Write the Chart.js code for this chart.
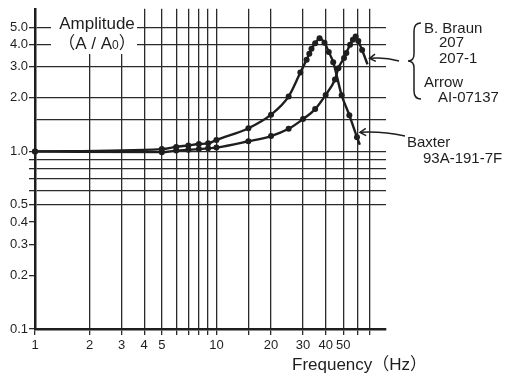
<!DOCTYPE html>
<html>
<head>
<meta charset="utf-8">
<script src="https://cdn.jsdelivr.net/npm/chart.js@4.4.0/dist/chart.umd.min.js"></script>
<style>
  body { margin: 0; background: #fff; }
</style>
</head>
<body>
<canvas id="freqChart" width="523" height="378"></canvas>
<script>
// tick positions and labels (log axes)
const xTickValues = [1, 2, 3, 4, 5, 6, 7, 8, 9, 10, 15, 20, 30, 40, 50, 60, 70];
const xTickLabels = ['1', '2', '3', '4', '5', '', '', '', '', '10', '', '20', '30', '40', '50', '', ''];
const yTickValues = [0.1, 0.2, 0.3, 0.4, 0.5, 0.6, 0.7, 0.8, 0.9, 1, 1.5, 2, 3, 4, 5];
const yTickLabels = ['0.1', '0.2', '0.3', '0.4', '0.5', '', '', '', '', '1.0', '', '2.0', '3.0', '4.0', '5.0'];

// Baxter 93A-191-7F (peak near 37 Hz)
const baxterFreq = [1, 5, 6, 7, 8, 9, 10, 15, 20, 25, 29, 31.4, 32.5, 33.4, 35, 37, 39.4, 41.6, 44, 49, 54, 59.5, 61.7];
const baxterAmp = [1.0, 1.03, 1.06, 1.08, 1.1, 1.11, 1.16, 1.35, 1.61, 2.04, 2.78, 3.28, 3.54, 3.78, 4.06, 4.33, 4.09, 3.63, 3.18, 2.07, 1.6, 1.2, 1.09];

// B. Braun 207 / 207-1, Arrow AI-07137 (peak near 58 Hz)
const braunFreq = [1, 5, 6, 7, 8, 9, 10, 15, 20, 25, 30, 35, 40, 45, 47, 50.5, 52, 54.5, 56.5, 58.5, 60.5, 63.5, 68];
const braunAmp = [1.0, 0.99, 1.01, 1.02, 1.03, 1.04, 1.05, 1.14, 1.22, 1.34, 1.52, 1.73, 2.08, 2.54, 2.94, 3.36, 3.58, 3.99, 4.25, 4.43, 4.18, 3.72, 3.09];

const ink = '#1e1e1e';
const gridInk = '#2a2a2a';
const fontFam = '"Liberation Sans", "Noto Sans CJK JP", sans-serif';

function toPoints(xs, ys) {
    return xs.map((x, i) => ({x: x, y: ys[i]}));
}
// last entry is only where the drawn line stops, no marker there
function markerSizes(xs) {
    return xs.map((x, i) => i === xs.length - 1 ? 0 : 3);
}

function drawArrow(ctx, fromX, fromY, tipX, tipY, bend) {
    let mx = (fromX + tipX) / 2;
    let my = (fromY + tipY) / 2 + bend;
    ctx.beginPath();
    ctx.moveTo(fromX, fromY);
    ctx.quadraticCurveTo(mx, my, tipX, tipY);
    ctx.stroke();
    let ang = Math.atan2(tipY - my, tipX - mx);
    ctx.beginPath();
    ctx.moveTo(tipX - 7 * Math.cos(ang - 0.55), tipY - 7 * Math.sin(ang - 0.55));
    ctx.lineTo(tipX, tipY);
    ctx.lineTo(tipX - 7 * Math.cos(ang + 0.55), tipY - 7 * Math.sin(ang + 0.55));
    ctx.stroke();
}

function drawBrace(ctx, x, top, bottom) {
    let mid = (top + bottom) / 2;
    ctx.beginPath();
    ctx.moveTo(x + 13, top);
    ctx.quadraticCurveTo(x + 6, top, x + 6, top + 8);
    ctx.lineTo(x + 6, mid - 7);
    ctx.quadraticCurveTo(x + 6, mid, x, mid);
    ctx.quadraticCurveTo(x + 6, mid, x + 6, mid + 7);
    ctx.lineTo(x + 6, bottom - 8);
    ctx.quadraticCurveTo(x + 6, bottom, x + 13, bottom);
    ctx.stroke();
}

const notes = {
    id: 'notes',
    afterDraw(chart) {
        const ctx = chart.ctx;
        const xs = chart.scales.x;
        const ys = chart.scales.y;
        ctx.save();
        ctx.fillStyle = ink;
        ctx.strokeStyle = ink;
        ctx.textBaseline = 'alphabetic';

        // y axis title sits on a blank patch of the grid
        ctx.fillStyle = '#fff';
        ctx.fillRect(51, 8, 86, 46);
        ctx.fillStyle = ink;
        ctx.font = '17px ' + fontFam;
        ctx.textAlign = 'center';
        ctx.fillText('Amplitude', 97, 29);
        // (A / A0) with small 0
        let parts = [['（A / A', '17px '], ['0', '12px '], ['）', '17px ']];
        let total = 0;
        parts.forEach(p => { ctx.font = p[1] + fontFam; total += ctx.measureText(p[0]).width; });
        let px = 97 - total / 2;
        ctx.textAlign = 'left';
        parts.forEach(p => {
            ctx.font = p[1] + fontFam;
            ctx.fillText(p[0], px, 49);
            px += ctx.measureText(p[0]).width;
        });

        // x axis title
        ctx.font = '17px ' + fontFam;
        ctx.fillText('Frequency（Hz）', 292, 370);

        // series labels
        ctx.font = '15px ' + fontFam;
        ctx.fillText('B. Braun', 424, 33);
        ctx.fillText('207', 439, 47);
        ctx.fillText('207-1', 439, 63);
        ctx.fillText('Arrow', 424, 87);
        ctx.fillText('AI-07137', 438, 102);
        ctx.fillText('Baxter', 407, 147);
        ctx.fillText('93A-191-7F', 423, 163);

        ctx.lineWidth = 1.5;
        drawBrace(ctx, 408, 23, 99);

        // arrows point at the ends of the two curves
        let bi = braunFreq.length - 1;
        let bx = xs.getPixelForValue(braunFreq[bi]) + 2;
        let by = ys.getPixelForValue(braunAmp[bi]) - 6;
        drawArrow(ctx, 399, 61, bx, by, -3);
        let xi = baxterFreq.length - 2;
        let cx = xs.getPixelForValue(baxterFreq[xi]) + 3;
        let cy = ys.getPixelForValue(baxterAmp[xi]) - 5;
        drawArrow(ctx, 405, 136, cx, cy, -3);
        ctx.restore();
    }
};

const lineStyle = {
    borderColor: ink,
    backgroundColor: ink,
    borderWidth: 2.4,
    pointBorderWidth: 0,
    cubicInterpolationMode: 'monotone',
    clip: false
};

let chartCtx = document.getElementById('freqChart').getContext('2d');
let freqChart = new Chart(chartCtx, {
    type: 'line',
    data: {
        datasets: [
            Object.assign({
                label: 'Baxter 93A-191-7F',
                data: toPoints(baxterFreq, baxterAmp),
                pointRadius: markerSizes(baxterFreq)
            }, lineStyle),
            Object.assign({
                label: 'B. Braun 207 / 207-1, Arrow AI-07137',
                data: toPoints(braunFreq, braunAmp),
                pointRadius: markerSizes(braunFreq)
            }, lineStyle)
        ]
    },
    options: {
        responsive: false,
        animation: false,
        devicePixelRatio: 1,
        layout: {
            padding: {left: 0, top: 7, right: 137, bottom: 0}
        },
        plugins: {
            legend: {display: false},
            tooltip: {enabled: false}
        },
        scales: {
            x: {
                type: 'logarithmic',
                min: 1,
                max: 86,
                afterBuildTicks: (scale) => {
                    scale.ticks = xTickValues.map(v => ({value: v}));
                },
                afterFit: (scale) => { scale.height = 49; },
                ticks: {
                    autoSkip: false,
                    maxRotation: 0,
                    color: ink,
                    padding: 3,
                    font: {family: fontFam, size: 13},
                    callback: (value) => xTickLabels[xTickValues.indexOf(value)] || ''
                },
                grid: {
                    color: gridInk,
                    lineWidth: 1.3,
                    tickLength: 6,
                    tickColor: gridInk
                },
                border: {display: true, color: ink, width: 2.5}
            },
            y: {
                type: 'logarithmic',
                min: 0.1,
                max: 6.35,
                afterBuildTicks: (scale) => {
                    scale.ticks = yTickValues.map(v => ({value: v}));
                },
                afterFit: (scale) => { scale.width = 35; },
                ticks: {
                    autoSkip: false,
                    color: ink,
                    padding: 1,
                    font: {family: fontFam, size: 13},
                    callback: (value) => yTickLabels[yTickValues.indexOf(value)] || ''
                },
                grid: {
                    color: (c) => [0.2, 0.3, 0.4].includes(c.tick && c.tick.value) ? 'rgba(0,0,0,0)' : gridInk,
                    lineWidth: 1.3,
                    tickLength: 6,
                    tickColor: (c) => (c.tick && c.tick.value === 1.5) ? 'rgba(0,0,0,0)' : gridInk
                },
                border: {display: true, color: ink, width: 2.5}
            }
        }
    },
    plugins: [notes]
});
</script>
</body>
</html>
